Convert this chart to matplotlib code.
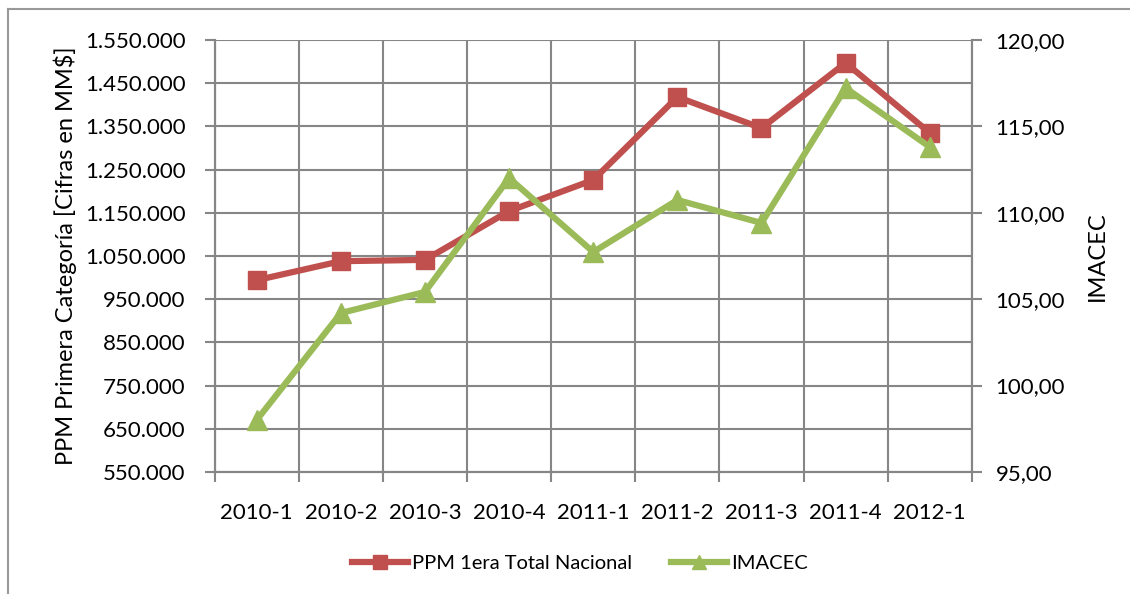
import matplotlib
matplotlib.use('Agg')
import matplotlib.pyplot as plt
from matplotlib.lines import Line2D
from matplotlib.ticker import FuncFormatter

plt.rcParams['font.family'] = ['Lato', 'DejaVu Sans']

# datos
periodos = ['2010-1', '2010-2', '2010-3', '2010-4', '2011-1',
            '2011-2', '2011-3', '2011-4', '2012-1']
ppm = [994000, 1038000, 1041000, 1154000, 1226000,
       1418000, 1346000, 1497000, 1335000]
imacec = [98.01, 104.20, 105.42, 112.01, 107.73,
          110.74, 109.41, 117.22, 113.81]

rojo = '#c0504d'
verde = '#9bbb59'
gris = '#868686'

fig = plt.figure(figsize=(11.3, 5.94), dpi=100)
ax = fig.add_axes([0.190, 0.2054, 0.670, 0.7273])
ax2 = ax.twinx()

x = list(range(len(periodos)))
ax.plot(x, ppm, color=rojo, lw=4.5, marker='s', ms=13, zorder=3)
ax2.plot(x, imacec, color=verde, lw=4.5, marker='^', ms=15, zorder=3)

ax.set_xlim(-0.5, len(periodos) - 0.5)
ax.set_ylim(550000, 1550000)
ax.set_yticks(range(550000, 1550001, 100000))
ax.yaxis.set_major_formatter(FuncFormatter(lambda v, p: f'{int(v):,}'.replace(',', '.')))
ax2.set_ylim(95, 120)
ax2.set_yticks(range(95, 121, 5))
ax2.yaxis.set_major_formatter(FuncFormatter(lambda v, p: f'{v:.2f}'.replace('.', ',')))

ax.set_xticks(x)
ax.set_xticklabels(periodos)
ax.set_xticks([i + 0.5 for i in range(-1, len(periodos))], minor=True)
ax.tick_params(axis='x', which='major', length=0, pad=22, labelsize=16)
ax.tick_params(axis='x', which='minor', length=7, color=gris, width=1.5)
ax.tick_params(axis='y', length=7, color=gris, width=1.5, labelsize=16, pad=14)
ax2.tick_params(axis='y', length=7, color=gris, width=1.5, labelsize=16, pad=10)

ax.grid(True, which='minor', axis='x', color=gris, lw=1.5)
ax.grid(True, which='major', axis='y', color=gris, lw=1.5)
ax.set_axisbelow(True)
for a in (ax, ax2):
    for s in a.spines.values():
        s.set_color(gris)
        s.set_linewidth(1.5)
    a.spines['top'].set_visible(False)

ax.set_ylabel('PPM Primera Categoría [Cifras en MM$]', fontsize=17, labelpad=6)
ax2.set_ylabel('IMACEC', fontsize=17, rotation=90, labelpad=16)

handles = [Line2D([], [], color=rojo, lw=4.5, marker='s', ms=10),
           Line2D([], [], color=verde, lw=4.5, marker='^', ms=10)]
fig.legend(handles, ['PPM 1era Total Nacional', 'IMACEC'], loc='center',
           bbox_to_anchor=(0.513, 0.052), ncol=2, frameon=False, fontsize=14.5,
           handlelength=2.8, columnspacing=1.9, handletextpad=0.2)

# borde del área del gráfico
fig.add_artist(Line2D([8 / 1130, 8 / 1130], [0, 1 - 9 / 594], color='#999999', lw=1.5))
fig.add_artist(Line2D([8 / 1130, 1], [1 - 9 / 594, 1 - 9 / 594], color='#999999', lw=1.5))

fig.savefig('out.png', dpi=100)
